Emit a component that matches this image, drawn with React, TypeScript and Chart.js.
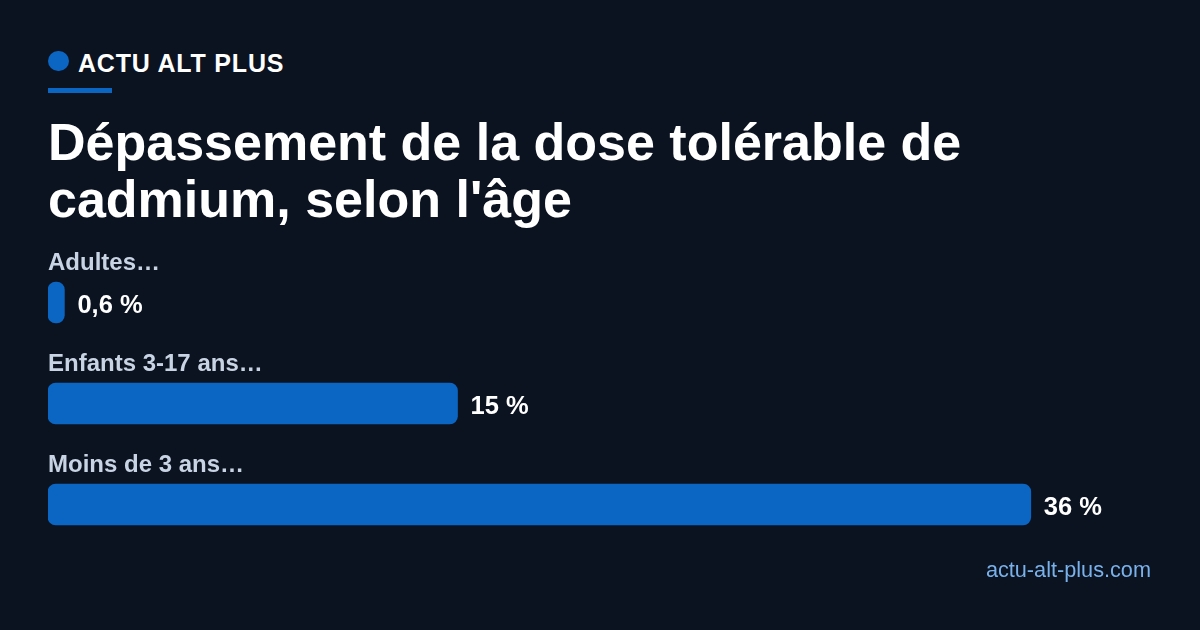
import React, { useEffect, useRef } from "react";
import { Chart, registerables } from "chart.js";

Chart.register(...registerables);

const categories: string[] = ["Adultes…", "Enfants 3-17 ans…", "Moins de 3 ans…"];
const values: number[] = [0.6, 15, 36];
const valueLabels: string[] = ["0,6 %", "15 %", "36 %"];
const axisMax = 40;

const BG = "#0b1220";
const BLUE = "#0a66c2";
const FONT = '"Liberation Sans", Arial, Helvetica, sans-serif';

const labelPlugin = {
  id: "barLabels",
  afterDatasetsDraw(chart: any) {
    const ctx = chart.ctx;
    const meta = chart.getDatasetMeta(0);
    const area = chart.chartArea;
    ctx.save();
    meta.data.forEach((bar: any, i: number) => {
      const p = bar.getProps(["x", "y", "height"], true);
      const top = p.y - p.height / 2;
      ctx.textAlign = "left";
      ctx.textBaseline = "alphabetic";
      ctx.font = `bold 24px ${FONT}`;
      ctx.fillStyle = "#c8d4e3";
      ctx.fillText(categories[i], area.left, top - 12);
      ctx.font = `bold 25.5px ${FONT}`;
      ctx.fillStyle = "#ffffff";
      ctx.fillText(valueLabels[i], p.x + 13, p.y + 10.5);
    });
    ctx.restore();
  },
};

export default function App() {
  const ref = useRef<HTMLCanvasElement | null>(null);

  useEffect(() => {
    document.body.style.margin = "0";
    document.body.style.background = BG;
    if (!ref.current) return;
    const chart = new Chart(ref.current, {
      type: "bar",
      data: {
        labels: categories,
        datasets: [
          {
            data: values,
            backgroundColor: BLUE,
            borderRadius: 8,
            borderSkipped: false,
            barThickness: 41,
          },
        ],
      },
      options: {
        indexAxis: "y",
        animation: false,
        responsive: false,
        maintainAspectRatio: false,
        devicePixelRatio: 1,
        layout: { padding: { left: 48, right: 60, top: 20, bottom: 17 } },
        plugins: { legend: { display: false }, tooltip: { enabled: false } },
        scales: {
          x: { display: false, min: 0, max: axisMax },
          y: { display: false },
        },
      },
      plugins: [labelPlugin],
    });
    return () => chart.destroy();
  }, []);

  return (
    <div
      style={{
        position: "relative",
        width: 1200,
        height: 630,
        background: BG,
        overflow: "hidden",
        fontFamily: FONT,
      }}
    >
      <div
        style={{
          position: "absolute",
          left: 48,
          top: 50.5,
          width: 20.5,
          height: 20.5,
          borderRadius: "50%",
          background: BLUE,
        }}
      />
      <div
        style={{
          position: "absolute",
          left: 78,
          top: 50.6,
          fontSize: 25,
          lineHeight: "25px",
          fontWeight: "bold",
          letterSpacing: "0.8px",
          color: "#ffffff",
          whiteSpace: "nowrap",
        }}
      >
        ACTU ALT PLUS
      </div>
      <div
        style={{
          position: "absolute",
          left: 48,
          top: 88,
          width: 64,
          height: 5,
          background: BLUE,
        }}
      />
      <div
        style={{
          position: "absolute",
          left: 48,
          top: 113.5,
          width: 1100,
          fontSize: 52,
          lineHeight: "57px",
          fontWeight: "bold",
          color: "#ffffff",
        }}
      >
        Dépassement de la dose tolérable de
        <br />
        cadmium, selon l'âge
      </div>
      <canvas
        ref={ref}
        width={1200}
        height={340}
        style={{ position: "absolute", left: 0, top: 232, width: 1200, height: 340 }}
      />
      <div
        style={{
          position: "absolute",
          right: 49,
          top: 558.6,
          fontSize: 21.7,
          lineHeight: "21.7px",
          color: "#79b1ea",
          whiteSpace: "nowrap",
        }}
      >
        actu-alt-plus.com
      </div>
    </div>
  );
}
